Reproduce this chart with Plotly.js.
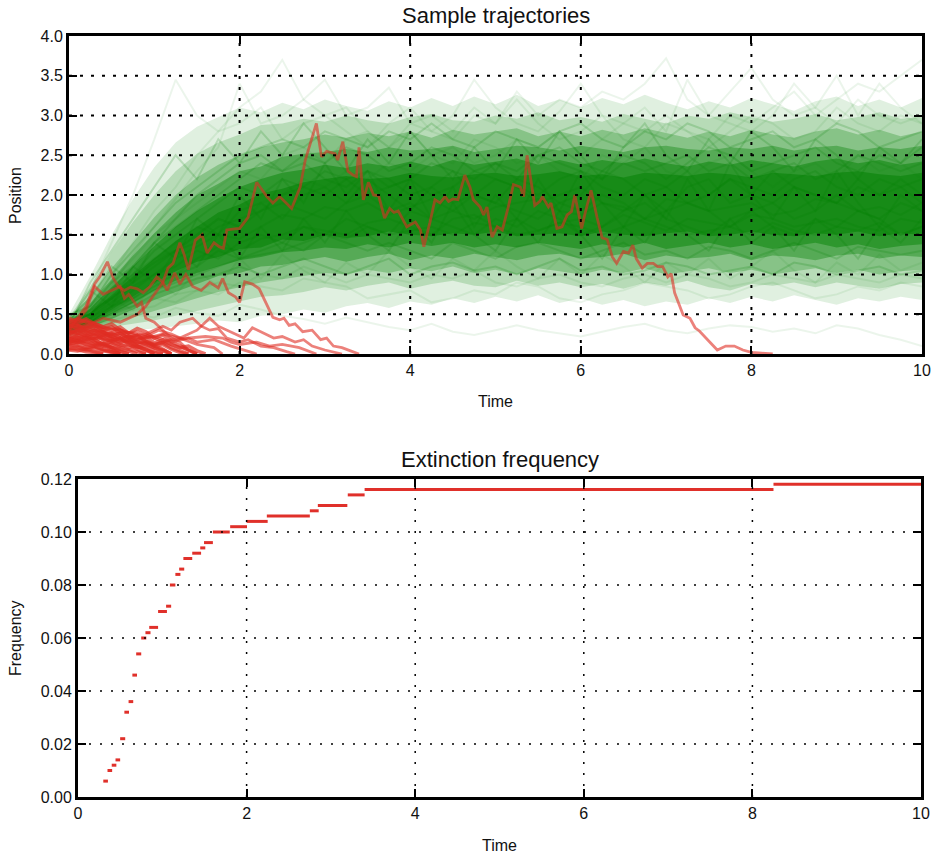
<!DOCTYPE html>
<html>
<head>
<meta charset="utf-8">
<script src="https://cdn.plot.ly/plotly-3.0.1.min.js"></script>
<style>html,body{margin:0;padding:0;background:#fff;}#chart{width:940px;height:857px;}</style>
</head>
<body>
<div id="chart"></div>
<script>
// ---------- time grid for the green ensemble (read at 0.25 steps) ----------
const tGrid = [0,0.25,0.5,0.75,1,1.25,1.5,1.75,2,2.25,2.5,2.75,3,3.25,3.5,3.75,4,4.25,4.5,4.75,5,5.25,5.5,5.75,6,6.25,6.5,6.75,7,7.25,7.5,7.75,8,8.25,8.5,8.75,9,9.25,9.5,9.75,10];

// density envelopes of the green ensemble (outer haze -> dark core)
const lo1 = [0.20,0.26,0.30,0.30,0.32,0.35,0.38,0.42,0.40,0.48,0.50,0.56,0.52,0.60,0.64,0.58,0.66,0.62,0.70,0.64,0.72,0.66,0.74,0.64,0.70,0.62,0.68,0.60,0.66,0.62,0.70,0.64,0.72,0.66,0.74,0.68,0.62,0.70,0.66,0.72,0.68];
const hi1 = [0.50,0.98,1.50,1.95,2.35,2.66,2.86,2.98,3.10,3.04,3.16,3.08,3.20,3.12,3.06,3.18,3.10,3.22,3.12,3.24,3.14,3.26,3.12,3.20,3.10,3.22,3.14,3.26,3.16,3.08,3.18,3.10,3.22,3.14,3.06,3.18,3.24,3.12,3.20,3.10,3.22];
const lo2 = [0.22,0.28,0.34,0.38,0.42,0.48,0.54,0.60,0.66,0.72,0.74,0.78,0.84,0.80,0.86,0.90,0.82,0.88,0.92,0.86,0.84,0.92,0.86,0.90,0.84,0.88,0.82,0.90,0.86,0.92,0.84,0.80,0.88,0.86,0.90,0.84,0.90,0.86,0.82,0.88,0.90];
const hi2 = [0.46,0.85,1.28,1.66,2.00,2.30,2.52,2.66,2.76,2.88,2.90,2.96,2.92,3.00,2.94,2.90,2.98,3.02,2.94,2.92,3.00,2.96,3.04,2.94,2.98,2.92,3.02,2.96,2.90,3.00,2.96,3.04,2.98,2.92,2.96,3.02,2.94,2.98,3.04,2.96,2.98];
const lo3 = [0.24,0.31,0.38,0.46,0.54,0.62,0.70,0.78,0.84,0.90,0.94,0.98,1.02,1.00,1.06,1.02,1.08,1.04,1.10,1.02,1.06,1.00,1.08,1.04,1.00,1.06,1.02,1.08,1.00,1.04,1.08,1.02,1.06,1.00,1.04,1.08,1.02,1.06,1.00,1.04,1.06];
const hi3 = [0.43,0.74,1.08,1.40,1.72,2.00,2.22,2.38,2.50,2.60,2.66,2.70,2.76,2.72,2.78,2.74,2.80,2.72,2.82,2.76,2.80,2.84,2.74,2.80,2.74,2.82,2.76,2.84,2.78,2.72,2.80,2.74,2.82,2.76,2.72,2.80,2.84,2.76,2.82,2.74,2.80];
const lo4 = [0.26,0.34,0.44,0.56,0.68,0.78,0.88,0.98,1.02,1.10,1.12,1.18,1.22,1.16,1.22,1.26,1.18,1.24,1.20,1.26,1.22,1.18,1.24,1.26,1.20,1.22,1.26,1.18,1.24,1.20,1.22,1.26,1.18,1.24,1.22,1.18,1.24,1.26,1.20,1.24,1.22];
const hi4 = [0.40,0.64,0.94,1.24,1.52,1.78,2.00,2.14,2.30,2.36,2.48,2.52,2.54,2.58,2.54,2.60,2.56,2.58,2.62,2.54,2.58,2.62,2.60,2.56,2.62,2.58,2.54,2.60,2.62,2.58,2.56,2.60,2.58,2.62,2.56,2.60,2.62,2.56,2.60,2.58,2.62];
const lo5 = [0.28,0.37,0.50,0.64,0.80,0.92,1.02,1.10,1.18,1.22,1.28,1.30,1.34,1.32,1.38,1.34,1.40,1.36,1.40,1.34,1.38,1.34,1.40,1.36,1.32,1.38,1.34,1.40,1.32,1.36,1.40,1.34,1.38,1.32,1.36,1.40,1.34,1.38,1.32,1.36,1.38];
const hi5 = [0.37,0.58,0.84,1.10,1.36,1.60,1.80,1.96,2.10,2.20,2.28,2.32,2.38,2.34,2.40,2.36,2.42,2.36,2.44,2.38,2.42,2.46,2.38,2.44,2.38,2.44,2.40,2.46,2.40,2.36,2.42,2.38,2.44,2.40,2.36,2.42,2.46,2.40,2.44,2.38,2.42];
const lo6 = [0.30,0.40,0.56,0.72,0.90,1.04,1.16,1.22,1.32,1.34,1.44,1.42,1.50,1.46,1.48,1.54,1.50,1.48,1.52,1.50,1.54,1.48,1.50,1.52,1.48,1.54,1.50,1.48,1.52,1.54,1.48,1.50,1.54,1.50,1.48,1.52,1.50,1.54,1.48,1.52,1.50];
const hi6 = [0.34,0.52,0.74,0.98,1.20,1.42,1.60,1.78,1.88,2.02,2.08,2.16,2.20,2.24,2.20,2.22,2.28,2.24,2.22,2.26,2.28,2.24,2.26,2.30,2.24,2.26,2.22,2.28,2.26,2.24,2.28,2.26,2.22,2.28,2.26,2.24,2.28,2.30,2.26,2.24,2.28];

// individual surviving (green) trajectories, values on tGrid
const g01 = [0.40,0.8,1.4,2.0,2.7,3.45,3.0,2.8,2.9,3.1,2.7,2.9,3.0,2.8,2.6,2.9,3.1,2.8,2.7,3.0,2.9,3.2,2.9,2.7,2.8,3.0,2.7,2.6,2.9,2.8,2.6,2.8,3.0,2.9,2.7,2.8,3.1,2.9,2.8,3.0,2.9];
const g02 = [0.45,0.6,1.0,1.4,1.8,2.1,2.5,2.8,3.1,3.3,3.7,3.2,3.0,3.1,2.8,2.6,2.8,2.5,2.4,2.7,2.6,2.4,2.5,2.3,2.2,2.5,2.4,2.6,2.3,2.2,2.4,2.5,2.3,2.1,2.3,2.4,2.2,2.5,2.3,2.4,2.2];
const g03 = [0.32,0.55,0.9,1.2,1.5,1.7,1.9,2.1,2.3,2.2,2.5,2.6,2.4,2.7,2.8,2.6,2.9,3.0,2.8,3.1,2.9,3.3,3.0,3.2,3.1,3.3,3.2,3.4,3.72,3.2,3.0,3.3,3.6,3.2,3.0,3.1,2.9,3.2,3.0,2.9,3.0];
const g04 = [0.38,0.5,0.7,0.9,1.2,1.3,1.5,1.7,1.6,1.9,2.0,2.2,2.1,2.3,2.2,2.4,2.3,2.5,2.6,2.4,2.5,2.7,2.6,2.8,2.5,2.7,2.9,2.8,3.0,2.8,2.7,3.0,2.9,3.1,3.3,3.0,3.2,3.4,3.3,3.5,3.7];
const g05 = [0.28,0.36,0.42,0.50,0.46,0.58,0.52,0.48,0.62,0.56,0.48,0.44,0.38,0.46,0.40,0.34,0.30,0.38,0.28,0.24,0.30,0.36,0.30,0.26,0.22,0.28,0.34,0.38,0.30,0.26,0.32,0.36,0.34,0.28,0.32,0.26,0.36,0.32,0.24,0.18,0.10];
const g06 = [0.30,0.4,0.55,0.6,0.7,0.65,0.8,0.75,0.9,0.85,0.8,0.95,0.9,0.85,0.7,0.75,0.8,0.65,0.7,0.8,0.75,0.9,0.85,0.7,0.65,0.75,0.8,0.9,0.85,0.8,0.7,0.75,0.85,0.9,0.8,0.7,0.75,0.85,0.8,0.9,0.85];
const g07 = [0.42,0.5,0.8,1.0,1.2,1.4,1.6,1.5,1.8,1.9,1.7,2.0,2.1,1.9,2.2,2.0,1.8,2.1,2.3,2.0,1.9,2.2,2.1,1.9,2.0,2.3,2.2,2.0,1.8,2.1,2.2,1.9,2.0,2.3,2.1,2.0,1.9,2.2,2.0,2.1,1.9];
const g08 = [0.35,0.45,0.6,0.8,1.0,1.1,1.3,1.2,1.4,1.5,1.4,1.6,1.5,1.7,1.6,1.5,1.8,1.7,1.6,1.5,1.7,1.6,1.8,1.7,1.5,1.6,1.8,1.9,1.7,1.6,1.5,1.7,1.8,1.6,1.5,1.7,1.6,1.8,1.7,1.5,1.6];
const g09 = [0.48,0.6,0.9,1.1,1.4,1.6,1.8,2.0,2.2,2.4,2.3,2.5,2.4,2.6,2.5,2.3,2.4,2.6,2.5,2.3,2.4,2.2,2.5,2.6,2.4,2.3,2.5,2.4,2.2,2.4,2.6,2.5,2.3,2.4,2.5,2.6,2.4,2.3,2.5,2.4,2.6];
const g10 = [0.30,0.4,0.55,0.7,0.85,1.0,1.1,1.3,1.2,1.3,1.4,1.3,1.5,1.4,1.3,1.4,1.3,1.2,1.4,1.3,1.2,1.35,1.4,1.3,1.2,1.3,1.4,1.25,1.3,1.2,1.35,1.3,1.2,1.3,1.4,1.3,1.2,1.35,1.3,1.25,1.3];
const g11 = [0.40,0.55,0.7,0.95,1.15,1.3,1.5,1.7,1.6,1.8,1.9,1.8,1.7,1.9,2.0,1.8,1.9,1.7,1.8,2.0,1.9,1.8,1.7,1.9,1.8,2.0,1.9,1.7,1.8,1.9,1.8,1.6,1.8,1.9,1.7,1.8,2.0,1.8,1.7,1.9,1.8];
const g12 = [0.44,0.5,0.75,1.0,1.3,1.5,1.7,1.9,2.1,2.0,2.2,2.1,2.3,2.2,2.0,2.1,2.2,2.0,2.1,2.3,2.2,2.1,2.0,2.2,2.3,2.1,2.0,2.2,2.1,2.3,2.0,2.2,2.1,2.0,2.2,2.3,2.1,2.0,2.2,2.1,2.2];
const g13 = [0.32,0.4,0.5,0.65,0.8,0.9,1.0,1.1,1.2,1.25,1.3,1.4,1.5,1.45,1.6,1.5,1.55,1.6,1.5,1.65,1.6,1.5,1.55,1.65,1.6,1.5,1.6,1.7,1.6,1.5,1.55,1.6,1.5,1.65,1.55,1.5,1.6,1.55,1.65,1.5,1.6];
const g14 = [0.50,0.6,1.0,1.3,1.6,1.9,2.1,2.3,2.5,2.6,2.7,2.6,2.8,2.7,2.6,2.8,2.7,2.9,2.7,2.6,2.8,2.7,2.6,2.8,2.9,2.7,2.6,2.8,2.7,2.9,2.8,2.6,2.7,2.8,2.6,2.7,2.9,2.8,2.6,2.7,2.8];
const g15 = [0.36,0.45,0.65,0.85,1.0,1.2,1.35,1.5,1.45,1.6,1.75,1.7,1.85,1.8,1.9,1.75,1.85,1.95,1.8,1.7,1.85,1.9,1.95,1.8,1.75,1.9,1.85,1.7,1.95,1.9,1.8,1.85,1.9,1.75,1.8,1.95,1.9,1.8,1.85,1.75,1.9];
const g16 = [0.28,0.4,0.5,0.6,0.75,0.85,0.95,1.0,1.1,1.0,1.1,1.2,1.1,1.0,1.1,1.2,1.0,1.1,1.15,1.05,1.1,1.0,1.1,1.2,1.05,1.1,1.0,1.05,1.15,1.1,1.0,1.05,1.1,1.0,1.15,1.1,1.0,1.05,1.1,1.0,1.05];
const g17 = [0.38,0.5,0.7,0.9,1.1,1.3,1.4,1.6,1.7,1.8,2.0,2.1,2.0,2.2,2.3,2.1,2.2,2.4,2.3,2.2,2.4,2.3,2.5,2.4,2.3,2.2,2.4,2.3,2.4,2.5,2.3,2.4,2.2,2.3,2.4,2.2,2.3,2.5,2.4,2.3,2.4];
const g18 = [0.33,0.4,0.6,0.7,0.9,1.0,1.2,1.35,1.3,1.45,1.5,1.6,1.55,1.5,1.65,1.7,1.6,1.5,1.7,1.75,1.6,1.7,1.55,1.65,1.7,1.6,1.75,1.65,1.55,1.7,1.65,1.6,1.75,1.7,1.6,1.65,1.7,1.6,1.55,1.7,1.65];
const g19 = [0.46,0.5,0.8,1.1,1.4,1.7,2.0,2.2,2.4,2.5,2.3,2.4,2.2,2.1,2.3,2.2,2.0,2.1,1.9,2.0,2.2,2.1,1.9,2.0,2.1,1.9,1.8,2.0,2.1,1.9,2.0,2.2,2.0,1.9,2.1,2.0,1.9,2.1,2.0,2.2,2.0];
const g20 = [0.30,0.35,0.45,0.55,0.6,0.75,0.8,0.9,0.85,1.0,0.95,1.1,1.0,0.9,1.0,0.95,0.9,1.0,0.95,1.05,0.9,0.85,0.95,1.0,0.9,0.85,0.95,1.0,0.9,1.0,0.95,0.85,0.9,1.0,0.95,0.9,1.0,0.95,0.9,1.0,0.95];
const g21 = [0.30,0.55,0.85,1.25,1.60,1.95,2.30,2.60,3.40,2.90,3.00,3.20,3.45,3.00,3.10,3.35,2.90,2.80,3.00,3.45,3.10,2.90,2.80,3.05,3.40,3.00,2.90,3.10,2.80,3.45,3.00,2.90,2.80,3.00,3.40,3.10,3.50,3.00,3.40,3.10,2.90];
const g22 = [0.45,0.7,1.1,0.9,1.4,1.2,1.7,1.5,2.0,1.7,2.2,1.9,2.4,2.0,2.3,1.8,2.2,1.7,2.1,1.6,2.0,1.7,2.2,1.8,2.3,1.9,1.6,2.0,1.7,2.2,1.8,2.4,2.0,1.7,2.1,1.8,2.3,1.9,1.6,2.0,1.8];
const g23 = [0.40,0.8,0.6,1.1,0.9,1.3,1.1,1.5,1.2,1.6,1.3,1.7,1.4,1.8,1.5,1.3,1.7,1.4,1.9,1.5,1.3,1.7,1.4,1.8,1.5,1.2,1.6,1.4,1.8,1.5,1.3,1.7,1.4,1.6,1.3,1.7,1.5,1.2,1.6,1.4,1.7];
const g24 = [0.35,0.9,1.3,1.7,2.1,2.5,2.2,2.7,2.4,2.8,2.5,2.9,2.6,2.3,2.7,2.4,2.8,2.5,2.2,2.6,2.3,2.7,2.4,2.8,2.5,2.2,2.6,2.9,2.5,2.3,2.7,2.4,2.8,2.6,2.3,2.7,2.5,2.2,2.6,2.4,2.7];
const g25 = [0.25,0.45,0.7,0.55,0.9,0.75,1.05,0.85,1.2,0.95,1.25,1.05,0.9,1.15,1.0,1.3,1.1,0.95,1.2,1.05,1.3,1.1,0.95,1.2,1.0,1.25,1.1,0.9,1.15,1.0,1.2,0.95,1.1,1.3,1.05,0.9,1.15,1.0,1.25,1.05,1.15];
const greenFaint = [g01,g02,g03,g04,g05,g21,g06,g20,g25];
const greenMain = [g07,g08,g09,g10,g11,g12,g13,g14,g15,g16,g17,g18,g19,g22,g23,g24];

// ---------- extinct (red) trajectories ----------
const redA_t = [0,0.1,0.2,0.3,0.36,0.45,0.52,0.58,0.65,0.72,0.8,0.87,0.95,1.03,1.1,1.16,1.22,1.30,1.35,1.40,1.48,1.56,1.62,1.70,1.76,1.81,1.85,1.92,2.0,2.1,2.2,2.32,2.39,2.47,2.55,2.61,2.71,2.77,2.9,2.96,3.02,3.08,3.12,3.15,3.21,3.27,3.33,3.37,3.40,3.45,3.51,3.57,3.63,3.70,3.76,3.81,3.86,3.96,4.06,4.12,4.16,4.23,4.29,4.35,4.41,4.45,4.5,4.56,4.64,4.70,4.74,4.82,4.86,4.90,4.96,5.02,5.08,5.15,5.21,5.29,5.33,5.37,5.46,5.52,5.55,5.62,5.65,5.72,5.78,5.84,5.89,5.93,6.01,6.05,6.12,6.19,6.25,6.31,6.37,6.42,6.5,6.56,6.61,6.65,6.72,6.78,6.85,6.9,6.96,7.02,7.06,7.1,7.2,7.28,7.34,7.39,7.49,7.6,7.7,7.8,7.9,8.0,8.12,8.25];
const redA_y = [0.30,0.45,0.60,0.88,0.97,1.16,0.95,0.85,0.80,0.84,0.82,0.77,0.85,0.97,0.90,1.08,1.14,1.40,1.25,1.06,1.43,1.50,1.27,1.40,1.35,1.33,1.56,1.57,1.58,1.72,2.16,1.98,1.90,1.98,1.90,1.83,2.10,2.44,2.90,2.48,2.55,2.53,2.52,2.44,2.67,2.30,2.25,2.23,2.60,1.94,2.16,2.00,1.99,1.71,1.83,1.78,1.80,1.60,1.66,1.56,1.35,1.65,1.94,1.90,1.98,1.92,1.95,1.94,2.25,2.10,1.94,1.85,1.75,1.85,1.47,1.60,1.56,1.85,2.13,2.10,1.98,2.50,1.87,1.92,1.98,1.85,1.90,1.58,1.60,1.75,1.79,2.00,1.58,1.77,2.06,1.72,1.46,1.44,1.22,1.14,1.29,1.27,1.37,1.20,1.08,1.14,1.14,1.10,1.10,0.97,1.01,0.77,0.49,0.45,0.33,0.29,0.18,0.05,0.10,0.10,0.05,0.02,0.01,0.00];
const redC_t = [0,0.1,0.2,0.3,0.4,0.5,0.6,0.65,0.7,0.8,0.85,0.9,1.0,1.1,1.2,1.3,1.4,1.5];
const redC_y = [0.35,0.42,0.55,0.85,0.75,0.80,0.85,0.70,0.75,0.60,0.65,0.45,0.40,0.30,0.20,0.15,0.05,0.00];
const redD_t = [0,0.2,0.4,0.6,0.8,0.9,1.0,1.1,1.15,1.24,1.3,1.37,1.45,1.55,1.65,1.75,1.8,1.87,1.95,2.0,2.06,2.15,2.23,2.32,2.39,2.47,2.52,2.58,2.65,2.74,2.85,2.95,3.02,3.1,3.2,3.3,3.4];
const redD_y = [0.25,0.35,0.45,0.40,0.50,0.60,0.75,0.90,0.80,1.02,0.88,1.00,0.85,0.80,0.90,0.83,0.95,0.77,0.72,0.65,0.91,0.88,0.82,0.62,0.46,0.43,0.45,0.36,0.38,0.28,0.30,0.18,0.20,0.10,0.08,0.04,0.00];
const redE_t = [0,0.3,0.6,0.9,1.1,1.2,1.3,1.45,1.55,1.65,1.75,1.85,2.0,2.1,2.25,2.4,2.55,2.65];
const redE_y = [0.22,0.25,0.20,0.25,0.35,0.30,0.40,0.45,0.35,0.30,0.32,0.20,0.15,0.18,0.10,0.08,0.03,0.00];
const redF_t = [0,0.3,0.6,0.9,1.1,1.3,1.5,1.65,1.75,1.85,1.95,2.05,2.15,2.25,2.4,2.5,2.65,2.75,2.85,3.0,3.2];
const redF_y = [0.15,0.20,0.15,0.20,0.25,0.20,0.30,0.45,0.35,0.30,0.25,0.20,0.33,0.28,0.20,0.22,0.15,0.18,0.10,0.05,0.00];
const redG_t = [0,0.4,0.8,1.0,1.2,1.4,1.6,1.8,1.9,2.0,2.2,2.35,2.5,2.7,2.85,2.9];
const redG_y = [0.20,0.20,0.15,0.12,0.18,0.20,0.22,0.20,0.15,0.12,0.15,0.10,0.12,0.08,0.02,0.00];
const redH_t = [0,0.5,0.8,1.0,1.2,1.4,1.5,1.7,1.9,2.05,2.2];
const redH_y = [0.12,0.25,0.20,0.22,0.15,0.20,0.15,0.18,0.10,0.05,0.00];
const redI_t = [0,0.3,0.6,0.9,1.05,1.2,1.35,1.5,1.7,1.8];
const redI_y = [0.28,0.35,0.30,0.22,0.30,0.25,0.18,0.12,0.08,0.00];
const redJ_t = [0,0.2,0.5,0.8,1.0,1.1,1.25,1.4,1.5];
const redJ_y = [0.18,0.32,0.25,0.28,0.20,0.15,0.10,0.05,0.00];
// early-extinct trajectories, sampled every 0.1 from t = 0
const redGridT = [0,0.1,0.2,0.3,0.4,0.5,0.6,0.7,0.8,0.9,1.0,1.1,1.2,1.3,1.4,1.5,1.6];
const s01 = [0.08,0.05,0.03,0.02,0.00];
const s02 = [0.12,0.10,0.07,0.09,0.05,0.03,0.00];
const s03 = [0.15,0.18,0.12,0.10,0.13,0.08,0.06,0.04,0.00];
const s04 = [0.42,0.38,0.42,0.36,0.30,0.34,0.26,0.20,0.24,0.16,0.10,0.06,0.00];
const s05 = [0.20,0.16,0.22,0.15,0.10,0.08,0.03,0.00];
const s06 = [0.45,0.40,0.44,0.38,0.34,0.38,0.30,0.26,0.32,0.28,0.20,0.24,0.16,0.10,0.05,0.00];
const s07 = [0.05,0.04,0.06,0.03,0.00];
const s08 = [0.25,0.28,0.22,0.26,0.20,0.16,0.20,0.12,0.08,0.10,0.04,0.00];
const s09 = [0.35,0.36,0.30,0.26,0.28,0.20,0.14,0.18,0.10,0.05,0.00];
const s10 = [0.40,0.44,0.40,0.38,0.34,0.30,0.34,0.26,0.22,0.16,0.12,0.14,0.08,0.04,0.00];
const s11 = [0.10,0.12,0.08,0.10,0.06,0.03,0.00];
const s12 = [0.28,0.24,0.20,0.24,0.18,0.14,0.10,0.12,0.06,0.00];
const s13 = [0.32,0.34,0.36,0.32,0.28,0.22,0.26,0.20,0.14,0.16,0.10,0.12,0.06,0.02,0.00];
const s14 = [0.18,0.14,0.16,0.12,0.14,0.08,0.04,0.00];
const s15 = [0.38,0.36,0.32,0.36,0.30,0.26,0.30,0.22,0.18,0.22,0.14,0.18,0.12,0.08,0.10,0.04,0.00];
const s16 = [0.22,0.20,0.24,0.18,0.12,0.06,0.00];
const s17 = [0.14,0.16,0.12,0.14,0.10,0.12,0.08,0.06,0.03,0.00];
const s18 = [0.30,0.26,0.28,0.22,0.24,0.18,0.20,0.14,0.10,0.06,0.00];
const s19 = [0.06,0.08,0.05,0.07,0.04,0.02,0.00];
const s20 = [0.26,0.30,0.26,0.30,0.26,0.22,0.18,0.22,0.16,0.12,0.08,0.04,0.00];
const s21 = [0.36,0.32,0.28,0.30,0.24,0.26,0.20,0.16,0.12,0.14,0.08,0.05,0.00];
const s22 = [0.16,0.20,0.16,0.18,0.12,0.16,0.12,0.08,0.10,0.05,0.02,0.00];
const redShort = [s01,s02,s03,s04,s05,s06,s07,s08,s09,s10,s11,s12,s13,s14,s15,s16,s17,s18,s19,s20,s21,s22];

// ---------- extinction frequency (step levels) ----------
const freqLevel = [0.006,0.010,0.012,0.014,0.022,0.032,0.036,0.046,0.054,0.060,0.062,0.064,0.070,0.072,0.080,0.084,0.086,0.090,0.092,0.094,0.096,0.100,0.102,0.104,0.106,0.108,0.110,0.114,0.116,0.118];
const segStart  = [0.30,0.35,0.40,0.445,0.50,0.55,0.60,0.645,0.69,0.75,0.80,0.845,0.95,1.045,1.09,1.155,1.20,1.25,1.355,1.45,1.495,1.60,1.805,2.00,2.24,2.75,2.845,3.20,3.40,8.25];
const segEnd    = [0.355,0.405,0.455,0.50,0.56,0.605,0.655,0.70,0.75,0.81,0.86,0.95,1.055,1.105,1.155,1.215,1.26,1.355,1.46,1.51,1.60,1.80,2.005,2.25,2.75,2.855,3.195,3.40,8.25,10.0];

// ticks
const topXTicks = [0,2,4,6,8,10];
const topYTicks = [0,0.5,1,1.5,2,2.5,3,3.5,4];
const botXTicks = [0,2,4,6,8,10];
const botYTicks = [0,0.02,0.04,0.06,0.08,0.10,0.12];

// ---------- build traces ----------
const GREEN = '0,128,0';
const RED = 'rgba(224,45,35,0.6)';
const traces = [];
function band(lo, hi, a) {
  const rev = tGrid.slice().reverse();
  traces.push({x: tGrid.concat(rev), y: hi.concat(lo.slice().reverse()), mode:'lines', fill:'toself',
    fillcolor:'rgba('+GREEN+','+a+')', line:{width:0}, hoverinfo:'skip', xaxis:'x', yaxis:'y'});
}
band(lo1, hi1, 0.12);
band(lo2, hi2, 0.18);
band(lo3, hi3, 0.26);
band(lo4, hi4, 0.36);
band(lo5, hi5, 0.46);
band(lo6, hi6, 0.5);
greenFaint.forEach(v => traces.push({x: tGrid.slice(0, v.length), y: v, mode:'lines',
  line:{color:'rgba('+GREEN+',0.08)', width:2}, xaxis:'x', yaxis:'y'}));
greenMain.forEach(v => traces.push({x: tGrid.slice(0, v.length), y: v, mode:'lines',
  line:{color:'rgba('+GREEN+',0.18)', width:2}, xaxis:'x', yaxis:'y'}));
redShort.forEach(v => traces.push({x: redGridT.slice(0, v.length), y: v, mode:'lines',
  line:{color:'rgba(224,45,35,0.68)', width:3.6}, xaxis:'x', yaxis:'y'}));
[[redC_t,redC_y],[redD_t,redD_y],[redE_t,redE_y],[redF_t,redF_y],[redG_t,redG_y],[redH_t,redH_y],[redI_t,redI_y],[redJ_t,redJ_y],[redA_t,redA_y]]
  .forEach(p => traces.push({x:p[0], y:p[1], mode:'lines', line:{color:RED, width:2.8}, xaxis:'x', yaxis:'y'}));

// extinction frequency segments
const fx = [], fy = [];
freqLevel.forEach((v, i) => { fx.push(segStart[i], segEnd[i], null); fy.push(v, v, null); });
traces.push({x: fx, y: fy, mode:'lines', line:{color:'#e0302a', width:3}, xaxis:'x2', yaxis:'y2', connectgaps:false});

// ---------- grid as dotted shapes above the data ----------
const shapes = [];
function vgrid(xs, xr, yr, w, dash) { xs.forEach(v => shapes.push({type:'line', layer:'above', xref:xr, yref:yr+' domain', x0:v, x1:v, y0:0, y1:1, line:{color:'#000', width:w, dash:dash}})); }
function hgrid(ys, xr, yr, w, dash) { ys.forEach(v => shapes.push({type:'line', layer:'above', xref:xr+' domain', yref:yr, x0:0, x1:1, y0:v, y1:v, line:{color:'#000', width:w, dash:dash}})); }
vgrid(topXTicks.slice(1, -1), 'x', 'y', 2, '3px,8px');
hgrid(topYTicks.slice(1, -1), 'x', 'y', 2, '3px,8px');
vgrid(botXTicks.slice(1, -1), 'x2', 'y2', 1.5, '2px,9px');
hgrid(botYTicks.slice(1, -1), 'x2', 'y2', 1.5, '2px,9px');

const FONT = 'Liberation Sans, Arial, Helvetica, sans-serif';
const axisCommon = {showline:true, linecolor:'#000', linewidth:3, mirror:'ticks', ticks:'inside', ticklen:8, tickwidth:2,
  tickcolor:'#000', showgrid:false, zeroline:false, tickfont:{family:FONT, size:16, color:'#111'}, layer:'above traces', fixedrange:true};
const H = 857, W = 940;
const layout = {
  width: W, height: H, margin:{l:0, r:0, t:0, b:0}, paper_bgcolor:'#fff', plot_bgcolor:'#fff', showlegend:false,
  font:{family:FONT, color:'#111'},
  xaxis: Object.assign({}, axisCommon, {domain:[69/W, 922/W], range:[0,10], tickvals:topXTicks, ticktext:topXTicks.map(String), anchor:'y', automargin:false}),
  yaxis: Object.assign({}, axisCommon, {domain:[1-354/H, 1-36/H], range:[0,4], tickvals:topYTicks, ticktext:topYTicks.map(v=>v.toFixed(1)), anchor:'x', automargin:false}),
  xaxis2: Object.assign({}, axisCommon, {domain:[78/W, 921/W], range:[0,10], tickvals:botXTicks, ticktext:botXTicks.map(String), anchor:'y2', automargin:false}),
  yaxis2: Object.assign({}, axisCommon, {domain:[1-797/H, 1-479/H], range:[0,0.12], tickvals:botYTicks, ticktext:botYTicks.map(v=>v.toFixed(2)), anchor:'x2', automargin:false}),
  shapes: shapes,
  annotations: [
    {text:'Sample trajectories', xref:'paper', yref:'paper', x:495.5/W, y:1-16/H, showarrow:false, xanchor:'center', yanchor:'middle', font:{family:FONT, size:22, color:'#111'}},
    {text:'Extinction frequency', xref:'paper', yref:'paper', x:499.5/W, y:1-459/H, showarrow:false, xanchor:'center', yanchor:'middle', font:{family:FONT, size:22, color:'#111'}},
    {text:'Time', xref:'paper', yref:'paper', x:495.5/W, y:1-401/H, showarrow:false, xanchor:'center', yanchor:'middle', font:{family:FONT, size:16, color:'#111'}},
    {text:'Time', xref:'paper', yref:'paper', x:499.5/W, y:1-845/H, showarrow:false, xanchor:'center', yanchor:'middle', font:{family:FONT, size:16, color:'#111'}},
    {text:'Position', xref:'paper', yref:'paper', x:15/W, y:1-195/H, showarrow:false, textangle:-90, xanchor:'center', yanchor:'middle', font:{family:FONT, size:16, color:'#111'}},
    {text:'Frequency', xref:'paper', yref:'paper', x:15/W, y:1-638/H, showarrow:false, textangle:-90, xanchor:'center', yanchor:'middle', font:{family:FONT, size:16, color:'#111'}}
  ]
};
Plotly.newPlot('chart', traces, layout, {displayModeBar:false, staticPlot:true});
</script>
</body>
</html>
